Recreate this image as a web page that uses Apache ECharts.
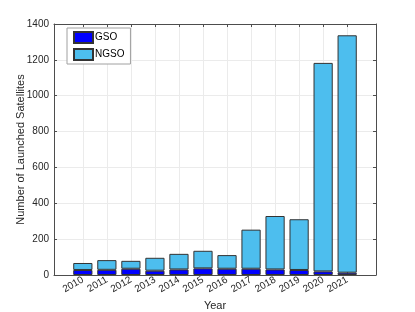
<!DOCTYPE html>
<html><head><meta charset="utf-8">
<script src="https://cdn.jsdelivr.net/npm/echarts@6/dist/echarts.min.js"></script>
<style>html,body{margin:0;padding:0;background:#fff}#c{width:415px;height:312px}</style>
</head><body><div id="c"></div>
<script>
var years = [2010, 2011, 2012, 2013, 2014, 2015, 2016, 2017, 2018, 2019, 2020, 2021];
var gso = [28, 29, 35, 24, 31, 37, 35, 35, 31, 28, 20, 13];
var ngso = [39, 54, 44, 72, 87, 98, 76, 218, 298, 283, 1163, 1324];
var yTicks = [0, 200, 400, 600, 800, 1000, 1200, 1400];

var font = 'Liberation Sans, Arial, sans-serif';
var axisCol = '#4d4d4d';
var chart = echarts.init(document.getElementById('c'), null, {renderer: 'canvas'});
function pairs(v) { return years.map(function (y, i) { return [v[i], y]; }); }
function plain(v) { return String(v); }
chart.setOption({
  animation: false,
  textStyle: {fontFamily: font},
  grid: {left: 54, right: 39, top: 24, bottom: 37, containLabel: false, outerBoundsMode: 'none'},
  legend: {
    orient: 'vertical', left: 67, top: 28, icon: 'rect',
    padding: [3, 6, 3, 6], itemGap: 4, itemWidth: 19, itemHeight: 11,
    borderColor: '#a0a0a0', borderWidth: 1, backgroundColor: '#fff',
    textStyle: {fontFamily: font, fontSize: 10, color: '#000', padding: [0, 0, 0, -3]},
    data: ['GSO', 'NGSO']
  },
  xAxis: [{
    type: 'value', min: 2008.8, max: 2022.2,
    name: 'Year', nameLocation: 'middle', nameGap: 25,
    nameTextStyle: {fontFamily: font, fontSize: 11, color: '#262626'},
    axisLine: {onZero: false, lineStyle: {color: axisCol}},
    axisTick: {inside: true, length: 3, customValues: years, lineStyle: {color: axisCol}},
    axisLabel: {customValues: years, rotate: 30, margin: 4, fontSize: 10, color: '#262626', fontFamily: font, formatter: plain},
    splitLine: {show: true, lineStyle: {color: '#ebebeb'}}
  }, {
    type: 'value', min: 2008.8, max: 2022.2, position: 'top',
    axisLine: {onZero: false, lineStyle: {color: axisCol}},
    axisTick: {inside: true, length: 3, customValues: years, lineStyle: {color: axisCol}},
    axisLabel: {show: false}, splitLine: {show: false}
  }],
  yAxis: [{
    type: 'value', min: 0, max: 1400, interval: 200,
    name: 'Number of Launched Satellites', nameLocation: 'middle', nameGap: 28, nameMoveOverlap: false,
    nameTextStyle: {fontFamily: font, fontSize: 11, color: '#262626'},
    axisLine: {show: true, lineStyle: {color: axisCol}},
    axisTick: {show: true, inside: true, length: 3, lineStyle: {color: axisCol}},
    axisLabel: {margin: 5, fontSize: 10, color: '#262626', fontFamily: font, formatter: plain},
    splitLine: {show: true, lineStyle: {color: '#ebebeb'}}
  }, {
    type: 'value', min: 0, max: 1400, interval: 200, position: 'right',
    axisLine: {show: true, lineStyle: {color: axisCol}},
    axisTick: {show: true, inside: true, length: 3, lineStyle: {color: axisCol}},
    axisLabel: {show: false}, splitLine: {show: false}
  }],
  series: [{
    name: 'GSO', type: 'bar', stack: 's', barWidth: '80%',
    encode: {x: 1, y: 0},
    data: pairs(gso),
    itemStyle: {color: '#0000ff', borderColor: '#333', borderWidth: 1}
  }, {
    name: 'NGSO', type: 'bar', stack: 's', barWidth: '80%',
    encode: {x: 1, y: 0},
    data: pairs(ngso),
    itemStyle: {color: '#4dbeee', borderColor: '#333', borderWidth: 1}
  }]
});
</script></body></html>
